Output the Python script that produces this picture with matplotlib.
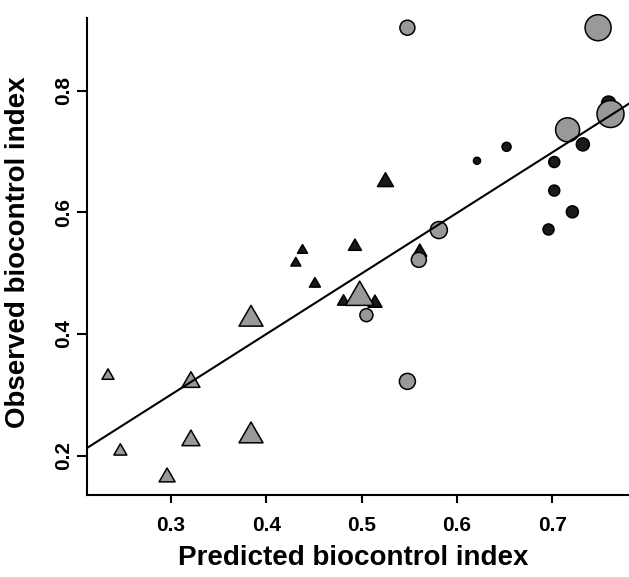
import numpy as np
import matplotlib
matplotlib.use("Agg")
import matplotlib.pyplot as plt
from matplotlib.path import Path

plt.rcParams['font.family'] = ['Liberation Sans', 'DejaVu Sans']
plt.rcParams['font.weight'] = 'bold'

# Predicted / observed biocontrol index per group, plus a weight that sets marker size
tri_black_pred = [0.525, 0.493, 0.438, 0.431, 0.451, 0.481, 0.514, 0.561]
tri_black_obs = [0.654, 0.547, 0.540, 0.519, 0.485, 0.456, 0.454, 0.538]
tri_black_w = [16, 13, 10, 10, 11, 12, 14, 14]

circ_black_pred = [0.759, 0.732, 0.652, 0.621, 0.702, 0.702, 0.721, 0.696]
circ_black_obs = [0.780, 0.712, 0.708, 0.685, 0.683, 0.636, 0.601, 0.572]
circ_black_w = [14, 13, 9, 7, 11, 11, 12, 11]

tri_gray_pred = [0.498, 0.384, 0.234, 0.321, 0.384, 0.321, 0.247, 0.296]
tri_gray_obs = [0.467, 0.430, 0.334, 0.325, 0.238, 0.229, 0.210, 0.168]
tri_gray_w = [28, 24, 12, 18, 24, 18, 13, 16]

circ_gray_pred = [0.548, 0.748, 0.761, 0.716, 0.581, 0.560, 0.505, 0.548]
circ_gray_obs = [0.904, 0.904, 0.762, 0.736, 0.571, 0.522, 0.431, 0.322]
circ_gray_w = [15, 26, 27, 24, 17, 15, 13, 16]

# Regression line
fit_intercept = 0.001
fit_slope = 0.997

x_ticks = [0.3, 0.4, 0.5, 0.6, 0.7]
y_ticks = [0.2, 0.4, 0.6, 0.8]

# equilateral triangle marker
tri = Path([(-1, -0.866), (1, -0.866), (0, 0.866), (-1, -0.866)],
           [Path.MOVETO, Path.LINETO, Path.LINETO, Path.CLOSEPOLY])


def msize(w):
    # weight -> scatter area (points^2)
    return (np.array(w) * 0.72) ** 2


fig = plt.figure(figsize=(6.29, 5.77), dpi=100)
ax = fig.add_axes([87 / 629, 82 / 577, 542 / 629, 477 / 577])

xlim = (0.212, 0.7804)
ax.set_xlim(*xlim)
ax.set_ylim(0.135, 0.920)

gray = '#999999'
dark = '#1a1a1a'
ax.scatter(tri_black_pred, tri_black_obs, s=msize(tri_black_w), marker=tri,
           c=dark, edgecolors='black', linewidths=1.1, zorder=2, clip_on=False)
ax.scatter(circ_black_pred, circ_black_obs, s=msize(circ_black_w), marker='o',
           c=dark, edgecolors='black', linewidths=1.1, zorder=2, clip_on=False)
ax.scatter(tri_gray_pred, tri_gray_obs, s=msize(tri_gray_w), marker=tri,
           c=gray, edgecolors='black', linewidths=1.1, zorder=3, clip_on=False)
ax.scatter(circ_gray_pred, circ_gray_obs, s=msize(circ_gray_w), marker='o',
           c=gray, edgecolors='black', linewidths=1.1, zorder=3, clip_on=False)

xs = np.array(xlim)
ax.plot(xs, fit_intercept + fit_slope * xs, color='black', lw=1.5, zorder=4)

# L-shaped axes
ax.spines['top'].set_visible(False)
ax.spines['right'].set_visible(False)
for sp in ['left', 'bottom']:
    ax.spines[sp].set_linewidth(1.5)

ax.set_xticks(x_ticks)
ax.set_yticks(y_ticks)
ax.set_xticklabels([f'{v:.1f}' for v in x_ticks])
ax.set_yticklabels([f'{v:.1f}' for v in y_ticks], rotation=90, va='center')
ax.tick_params(axis='x', length=6, width=1.5, pad=9, labelsize=15)
ax.tick_params(axis='y', length=7, width=1.5, pad=3, labelsize=15)

ax.set_xlabel('Predicted biocontrol index', fontsize=20, fontweight='bold')
ax.set_ylabel('Observed biocontrol index', fontsize=20, fontweight='bold')
ax.xaxis.set_label_coords(0.491, -0.104)
ax.yaxis.set_label_coords(-0.103, 0.508)

fig.savefig('out.png', dpi=100)
